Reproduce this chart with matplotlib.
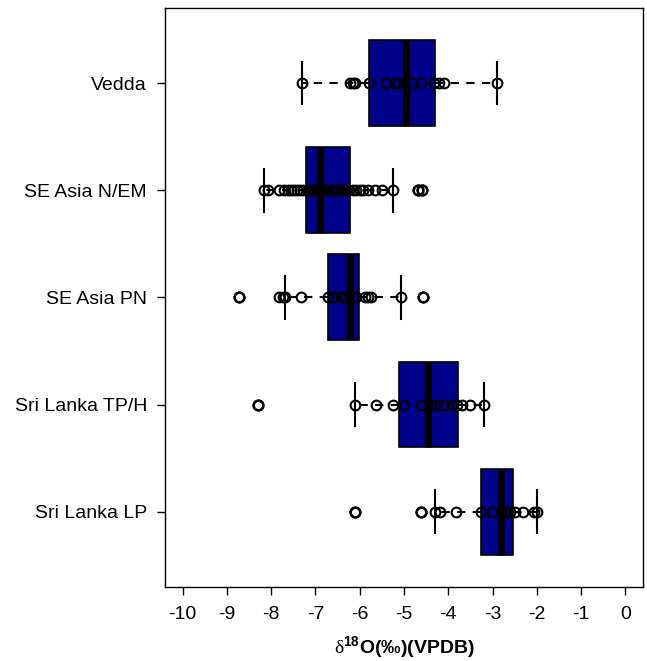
import matplotlib
matplotlib.use("Agg")
import matplotlib.pyplot as plt

plt.rcParams['font.family'] = ['Liberation Sans', 'DejaVu Sans']
plt.rcParams['mathtext.fontset'] = 'custom'
plt.rcParams['mathtext.rm'] = 'Liberation Serif'
plt.rcParams['mathtext.bf'] = 'Liberation Sans:bold'

# Groups listed top to bottom
categories = ["Vedda", "SE Asia N/EM", "SE Asia PN", "Sri Lanka TP/H", "Sri Lanka LP"]

q1 = [-5.80, -7.21, -6.72, -5.11, -3.25]
medians = [-4.95, -6.90, -6.22, -4.46, -2.81]
q3 = [-4.30, -6.22, -6.02, -3.79, -2.54]
whisker_low = [-7.30, -8.17, -7.68, -6.10, -4.30]
whisker_high = [-2.90, -5.25, -5.06, -3.20, -1.99]
outliers = [
    [],
    [-4.68, -4.59],
    [-8.72, -4.58],
    [-8.29],
    [-6.10, -4.61],
]

points = [
    [-7.30, -6.23, -6.16, -6.10, -5.80, -5.41, -5.20, -5.13, -4.81, -4.61,
     -4.32, -4.21, -4.10, -2.90],
    [-8.17, -8.08, -7.82, -7.72, -7.62, -7.55, -7.48, -7.42, -7.36, -7.28,
     -7.18, -7.12, -7.05, -6.98, -6.93, -6.88, -6.80, -6.72, -6.62, -6.55,
     -6.48, -6.40, -6.32, -6.25, -6.15, -6.08, -6.00, -5.92, -5.82, -5.65,
     -5.50, -5.25, -4.68, -4.59],
    [-8.72, -7.83, -7.74, -7.68, -7.32, -6.72, -6.61, -6.42, -6.34, -6.16,
     -6.08, -5.89, -5.82, -5.74, -5.06, -4.58],
    [-8.29, -6.10, -5.63, -5.24, -5.01, -4.62, -4.40, -4.28, -4.10, -3.91,
     -3.80, -3.69, -3.50, -3.20],
    [-6.10, -4.61, -4.30, -4.19, -3.83, -3.27, -3.01, -2.71, -2.60, -2.49,
     -2.30, -2.07, -2.00],
]

xticks = list(range(-10, 1))
xlabel = r'$\mathrm{\delta}^{\mathbf{18}}\mathbf{O(‰)(VPDB)}$'

n = len(categories)
positions = [n - i for i in range(n)]

fig = plt.figure(figsize=(6.47, 6.61), dpi=100)
ax = fig.add_axes([0.255, 0.1124, 0.7388, 0.8755])

stats = []
for i in range(n):
    stats.append(dict(q1=q1[i], med=medians[i], q3=q3[i],
                      whislo=whisker_low[i], whishi=whisker_high[i],
                      fliers=outliers[i], label=categories[i]))

ax.bxp(stats, positions=positions, widths=0.8, orientation='horizontal',
       patch_artist=True, showfliers=True,
       boxprops=dict(facecolor='#00008B', edgecolor='black', linewidth=1.2),
       medianprops=dict(color='black', linewidth=5, solid_capstyle='butt'),
       whiskerprops=dict(color='black', linewidth=1.5, linestyle=(0, (4, 3.5))),
       capprops=dict(color='black', linewidth=1.5),
       flierprops=dict(marker='o', markerfacecolor='none', markeredgecolor='black',
                       markersize=7, markeredgewidth=1.8, linestyle='none'))

for i in range(n):
    ax.plot(points[i], [positions[i]] * len(points[i]), linestyle='none',
            marker='o', markerfacecolor='none', markeredgecolor='black',
            markersize=7, markeredgewidth=1.5, zorder=5)

ax.set_xlim(-10.4, 0.4)
ax.set_ylim(0.3, n + 0.7)
ax.set_xticks(xticks)
ax.set_xticklabels([str(t) for t in xticks])
ax.set_yticks(positions)
ax.set_yticklabels(categories)
ax.tick_params(axis='x', direction='out', length=6, width=1, pad=8, labelsize=14)
ax.tick_params(axis='y', direction='out', length=6, width=1, pad=7, labelsize=14)
for s in ax.spines.values():
    s.set_linewidth(1)
ax.set_xlabel(xlabel, fontsize=14, labelpad=8)

fig.savefig("out.png", dpi=100)
